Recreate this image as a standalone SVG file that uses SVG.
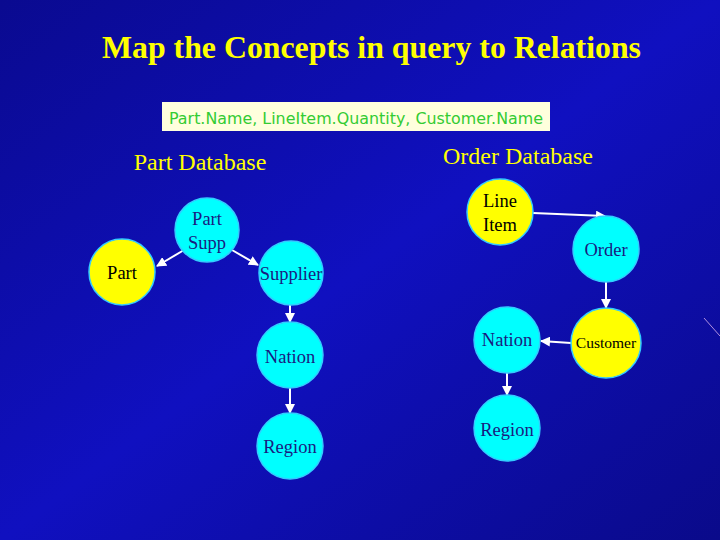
<svg xmlns="http://www.w3.org/2000/svg" width="720" height="540" viewBox="0 0 720 540">
<defs>
<linearGradient id="bg" x1="0" y1="0" x2="1" y2="1">
<stop offset="0" stop-color="#0a0a90"/><stop offset="0.5" stop-color="#1010c0"/><stop offset="1" stop-color="#0a0a8a"/>
</linearGradient>
<marker id="ah" viewBox="0 0 10 10" refX="9" refY="5" markerWidth="5" markerHeight="5" orient="auto"><path d="M0,0L10,5L0,10z" fill="#ffffff"/></marker>
</defs>
<style>
.y{fill:#ffff00;stroke:#33ccff;stroke-width:1.5}
.c{fill:#00ffff;stroke:#33ccff;stroke-width:1.5}
.t{font-family:"Liberation Serif",serif;font-size:18.5px;fill:#1a1a80;text-anchor:middle}
.ty{fill:#000000}
.h{font-family:"Liberation Serif",serif;font-size:24px;fill:#ffff00;text-anchor:middle}
.e{stroke:#ffffff;stroke-width:2;fill:none;marker-end:url(#ah)}
</style>
<rect width="720" height="540" fill="url(#bg)"/>
<line x1="704" y1="318" x2="720" y2="336" stroke="#b090e0" stroke-width="1"/>
<text x="102" y="58" font-family="Liberation Serif,serif" font-weight="bold" fill="#ffff00" textLength="539" lengthAdjust="spacingAndGlyphs" style="font-size:31.5px">Map the Concepts in query to Relations</text>
<rect x="162" y="102" width="388" height="29" fill="#ffffdd"/>
<text x="356" y="124" font-family="DejaVu Sans,sans-serif" font-size="15" fill="#33cc33" text-anchor="middle" textLength="374" lengthAdjust="spacingAndGlyphs">Part.Name, LineItem.Quantity, Customer.Name</text>
<text class="h" x="200" y="170">Part Database</text>
<text class="h" x="518" y="164">Order Database</text>
<g id="connectors">
<line class="e" x1="184" y1="250" x2="157" y2="266"/>
<line class="e" x1="232" y1="250" x2="258" y2="265"/>
<line class="e" x1="290" y1="305" x2="290" y2="322"/>
<line class="e" x1="290" y1="388" x2="290" y2="413"/>
<line class="e" x1="533" y1="213" x2="605" y2="216"/>
<line class="e" x1="606" y1="282" x2="606" y2="308"/>
<line class="e" x1="571" y1="343" x2="541" y2="341"/>
<line class="e" x1="507" y1="373" x2="507" y2="395"/>
</g>
<g id="part"><circle class="y" cx="122" cy="272" r="33"/><text class="t ty" x="122" y="279">Part</text></g>
<g id="partsupp"><circle class="c" cx="207" cy="230" r="32"/><text class="t" x="207" y="225">Part</text><text class="t" x="207" y="249">Supp</text></g>
<g id="supplier"><circle class="c" cx="291" cy="273" r="32"/><text class="t" x="291" y="280">Supplier</text></g>
<g id="nation1"><circle class="c" cx="290" cy="355" r="33"/><text class="t" x="290" y="363">Nation</text></g>
<g id="region1"><circle class="c" cx="290" cy="446" r="33"/><text class="t" x="290" y="453">Region</text></g>
<g id="lineitem"><circle class="y" cx="500" cy="212" r="33"/><text class="t ty" x="500" y="207">Line</text><text class="t ty" x="500" y="231">Item</text></g>
<g id="order"><circle class="c" cx="606" cy="249" r="33"/><text class="t" x="606" y="256">Order</text></g>
<g id="customer"><circle class="y" cx="606" cy="343" r="35"/><text class="t ty" x="606" y="348" style="font-size:15.5px">Customer</text></g>
<g id="nation2"><circle class="c" cx="507" cy="340" r="33"/><text class="t" x="507" y="346">Nation</text></g>
<g id="region2"><circle class="c" cx="507" cy="428" r="33"/><text class="t" x="507" y="436">Region</text></g>
</svg>
